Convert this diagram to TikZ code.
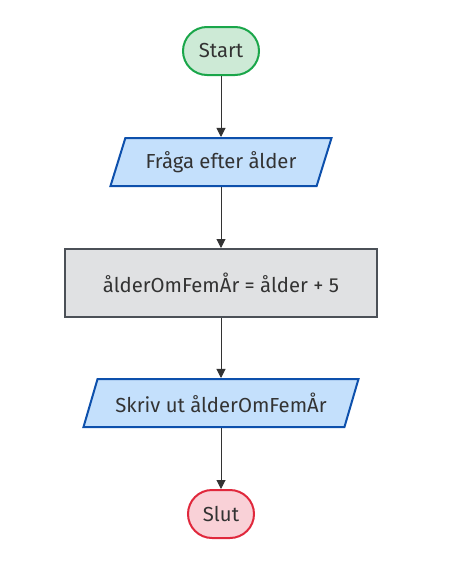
\documentclass[tikz,border=0pt]{standalone}
\usepackage{fontspec}
\setmainfont{Fira Sans}
\usetikzlibrary{shapes.geometric,arrows.meta}
\definecolor{txt}{HTML}{333333}
\definecolor{startfill}{HTML}{CDEAD6}
\definecolor{startline}{HTML}{1AA64A}
\definecolor{iofill}{HTML}{C4E0FC}
\definecolor{ioline}{HTML}{0D50AC}
\definecolor{procfill}{HTML}{E0E1E3}
\definecolor{procline}{HTML}{4B5057}
\definecolor{endfill}{HTML}{F9D1D7}
\definecolor{endline}{HTML}{E0283C}
\tikzset{
    terminal/.style={rectangle, rounded corners=24pt, minimum height=48pt, line width=2pt, inner xsep=12pt},
    inout/.style={trapezium, trapezium left angle=62, trapezium right angle=118, trapezium stretches body,
        minimum height=48pt, line width=2pt, draw=ioline, fill=iofill},
    process/.style={rectangle, minimum height=68pt, line width=2pt, draw=procline, fill=procfill},
    flow/.style={-{Triangle[length=9pt,width=9pt]}, line width=1pt, txt},
}
\begin{document}
\begin{tikzpicture}[x=1pt, y=-1pt, font=\fontsize{20.3}{24}\selectfont, text=txt]
    \useasboundingbox (0,0) rectangle (464,584);
    
    \node[terminal, draw=startline, fill=startfill, minimum width=76pt] (start) at (221,51) {Start};
    \node[inout, minimum width=221pt] (fraga) at (221,162) {Fråga efter ålder};
    \node[process, minimum width=312pt] (berakna) at (221,283) {ålderOmFemÅr = ålder + 5};
    \node[inout, minimum width=275pt] (skriv) at (221,403) {Skriv ut ålderOmFemÅr};
    \node[terminal, draw=endline, fill=endfill, minimum width=66pt] (slut) at (221,514) {Slut};
    
    \draw[flow] (start) -- (fraga);
    \draw[flow] (fraga) -- (berakna);
    \draw[flow] (berakna) -- (skriv);
    \draw[flow] (skriv) -- (slut);
    
\end{tikzpicture}
\end{document}
